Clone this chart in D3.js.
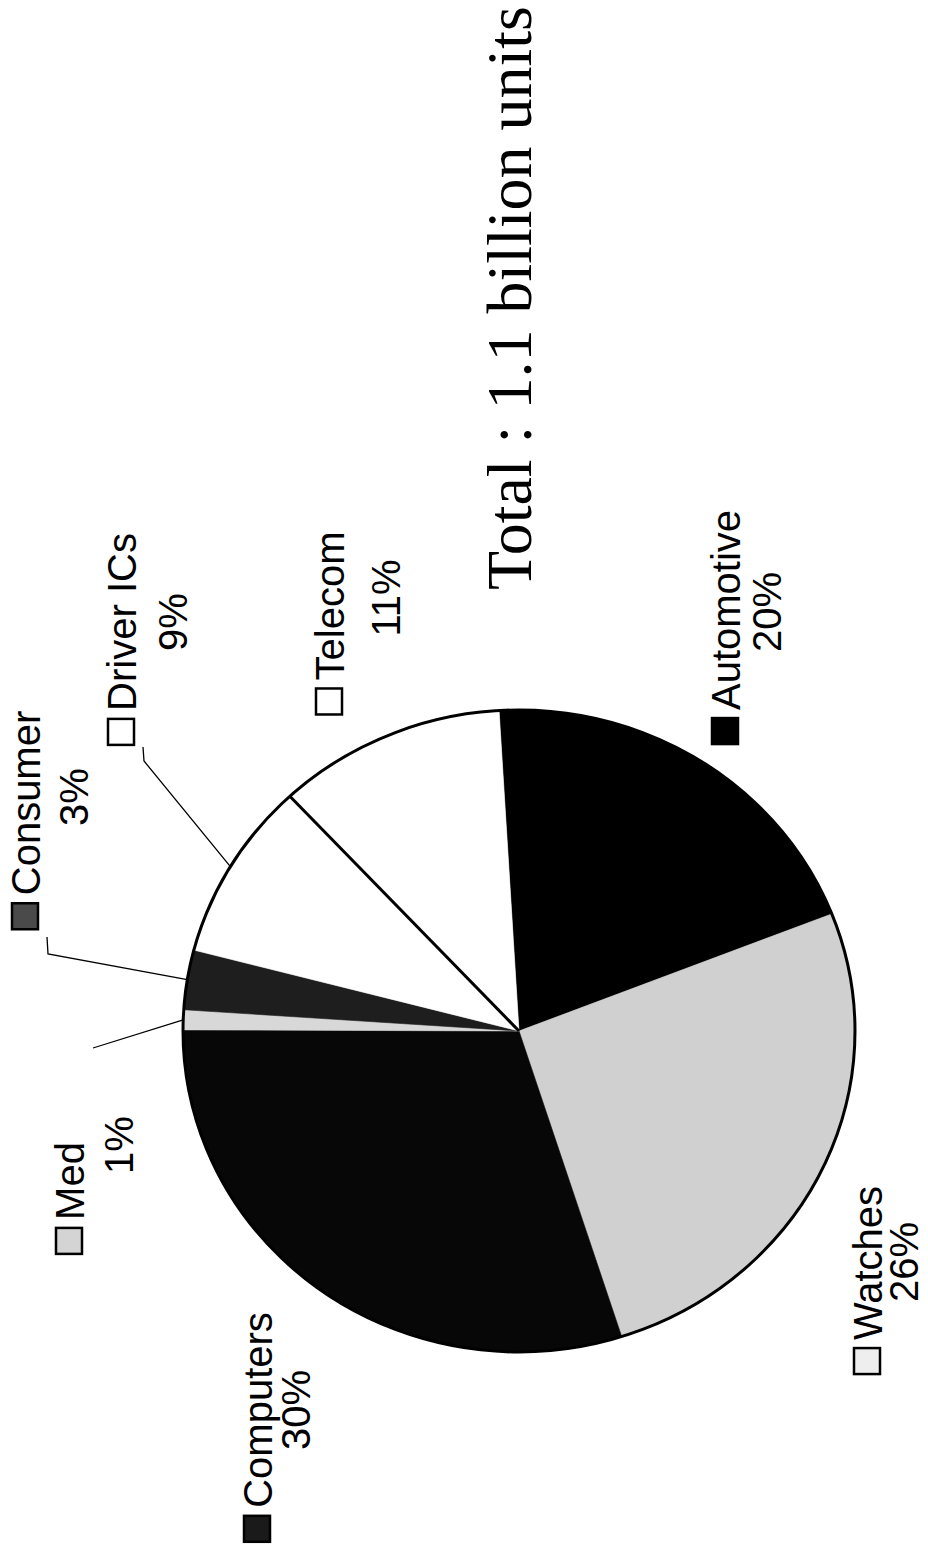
<!DOCTYPE html>
<html><head><meta charset="utf-8">
<script src="https://cdn.jsdelivr.net/npm/d3@7"></script>
<style>html,body{margin:0;padding:0;background:#fff;}svg{display:block;}</style>
</head><body>
<svg id="chart" width="928" height="1546"></svg>
<script>
// ---- data ----
const categories = ["Automotive", "Watches", "Computers", "Med", "Consumer", "Driver ICs", "Telecom"];
const shares = [20, 26, 30, 1, 3, 9, 11];
const pctLabels = ["20%", "26%", "30%", "1%", "3%", "9%", "11%"];
const titleText = "Total : 1.1 billion units";

// ---- styles / layout ----
const sliceFill = {"Automotive":"#000000","Watches":"#d0d0d0","Computers":"#070707","Med":"#d8d8d8","Consumer":"#1e1e1e","Driver ICs":"#ffffff","Telecom":"#ffffff"};
const keyFill = {"Automotive":"#000000","Watches":"#eeeeee","Computers":"#1a1a1a","Med":"#d4d4d4","Consumer":"#4a4a4a","Driver ICs":"#ffffff","Telecom":"#ffffff"};
// baseline x and centre y of the rotated label lines
const labelPos = {
  "Telecom":   {nx:344, ny:606, px:400, py:598},
  "Automotive":{nx:740, ny:610, px:781, py:612},
  "Watches":   {nx:882, ny:1263, px:918, py:1262},
  "Computers": {nx:272, ny:1410, px:310, py:1410},
  "Med":       {nx:84,  ny:1181, px:133, py:1145},
  "Consumer":  {nx:40,  ny:803, px:88,  py:797},
  "Driver ICs":{nx:136, ny:622, px:187, py:622}
};
const leaderPts = {
  "Driver ICs": [[144,761],[143,747]],
  "Consumer":   [[48,954],[47,937]],
  "Med":        [[93,1048]]
};
const cx = 519, cy = 1031, rx = 336, ry = 321;
const startDeg = -3.4;

const svg = d3.select("#chart");
svg.append("rect").attr("width",928).attr("height",1546).attr("fill","#fff");

const pie = d3.pie().sort(null).value(d => d.v)
  .startAngle(startDeg*Math.PI/180).endAngle(startDeg*Math.PI/180 + 2*Math.PI);
const data = categories.map((c,i)=>({c, v:shares[i], p:pctLabels[i]}));
const arcs = pie(data);
const arc = d3.arc().innerRadius(0).outerRadius(ry);

const g = svg.append("g").attr("transform",`translate(${cx},${cy}) scale(${rx/ry},1)`);
g.selectAll("path.slice").data(arcs).join("path")
  .attr("class","slice")
  .attr("d",arc)
  .attr("fill",d=>sliceFill[d.data.c])
  .attr("stroke",d=>sliceFill[d.data.c])
  .attr("stroke-width",0.6)
  .attr("vector-effect","non-scaling-stroke");

const rim = a => [cx + rx*Math.sin(a), cy - ry*Math.cos(a)];

// separator lines between white slices
arcs.forEach((d,i)=>{
  const prev = arcs[(i-1+arcs.length)%arcs.length];
  if (sliceFill[d.data.c]==="#ffffff" && sliceFill[prev.data.c]==="#ffffff"){
    const [x,y] = rim(d.startAngle);
    svg.append("line").attr("x1",cx).attr("y1",cy).attr("x2",x).attr("y2",y)
      .attr("stroke","#000").attr("stroke-width",3);
  }
});
// outline
svg.append("ellipse").attr("cx",cx).attr("cy",cy).attr("rx",rx).attr("ry",ry)
  .attr("fill","none").attr("stroke","#000").attr("stroke-width",3);

// leader lines
arcs.forEach(d=>{
  const pts = leaderPts[d.data.c];
  if(!pts) return;
  const m = (d.startAngle+d.endAngle)/2;
  const all = [rim(m), ...pts];
  svg.append("path").attr("d",d3.line()(all)).attr("fill","none")
    .attr("stroke","#000").attr("stroke-width",1.3);
});

// labels
const fontFam = "'Liberation Sans', Arial, Helvetica, sans-serif";
arcs.forEach(d=>{
  const L = labelPos[d.data.c];
  const gn = svg.append("g").attr("transform",`translate(${L.nx},${L.ny}) rotate(-90)`);
  const t = gn.append("text").attr("text-anchor","middle").attr("font-family",fontFam)
    .attr("font-size",40).attr("fill","#000").text(d.data.c);
  const w = t.node().getComputedTextLength();
  const box = 26, gap = 8;
  gn.append("rect").attr("x",-w/2-gap-box).attr("y",-box-2).attr("width",box).attr("height",box)
    .attr("fill",keyFill[d.data.c]).attr("stroke","#000").attr("stroke-width",2.5);
  svg.append("g").attr("transform",`translate(${L.px},${L.py}) rotate(-90)`)
    .append("text").attr("text-anchor","middle").attr("font-family",fontFam)
    .attr("font-size",40).attr("fill","#000").text(d.data.p);
});

// title
svg.append("g").attr("transform","translate(531,298) rotate(-90)")
  .append("text").attr("text-anchor","middle")
  .attr("font-family","'Liberation Serif','Times New Roman',serif")
  .attr("font-size",64).attr("fill","#000").text(titleText);
</script>
</body></html>
